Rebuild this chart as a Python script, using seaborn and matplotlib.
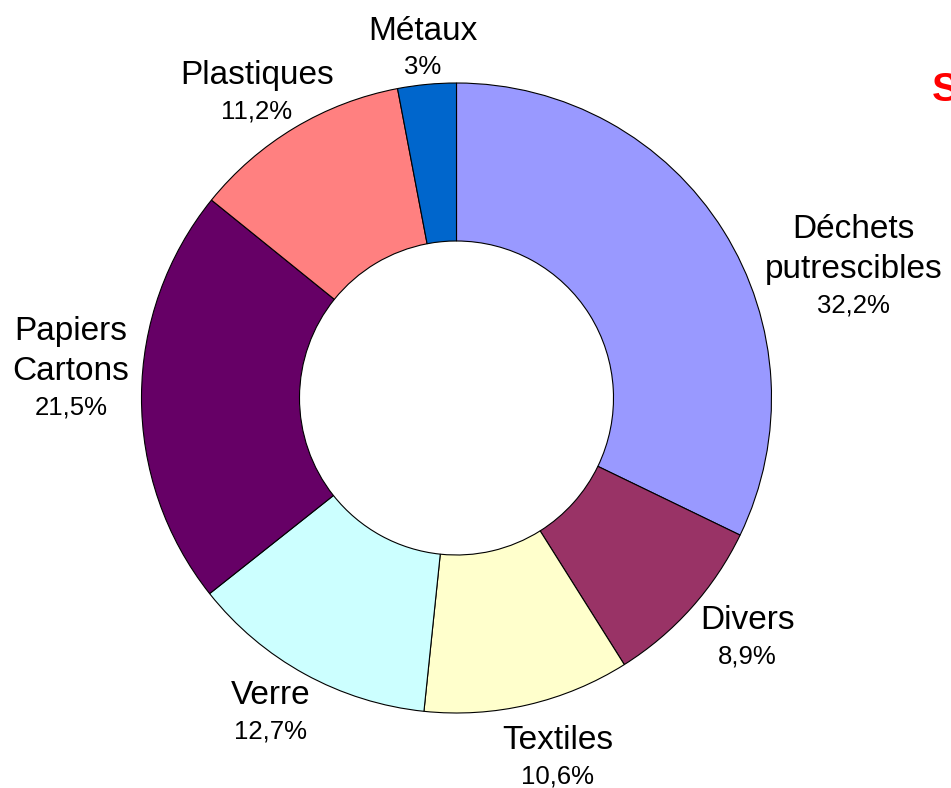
import numpy as np
import matplotlib
matplotlib.use("Agg")
import matplotlib.pyplot as plt
import seaborn as sns

# ---- data ----
categories = ["Déchets\nputrescibles", "Divers", "Textiles", "Verre",
              "Papiers\nCartons", "Plastiques", "Métaux"]
values = [32.2, 8.9, 10.6, 12.7, 21.5, 11.2, 3.0]
pct_labels = ["32,2%", "8,9%", "10,6%", "12,7%", "21,5%", "11,2%", "3%"]
colors = ["#9999FF", "#993366", "#FFFFCC", "#CCFFFF", "#660066", "#FF8080", "#0066CC"]

# label layout: (angle offset in degrees from wedge middle, distance from centre in px)
label_layout = [(-13.4, 419), (2.7, 375), (2.7, 371), (-2.1, 363),
                (-4.5, 387), (2.0, 367), (0.1, 354)]

sns.set_theme(style="white")
plt.rcParams["font.family"] = ["Liberation Sans", "DejaVu Sans"]

W, H = 951, 788
fig = plt.figure(figsize=(W / 100, H / 100), dpi=100)
ax = fig.add_axes([0, 0, 1, 1])
ax.set_xlim(0, W)
ax.set_ylim(0, H)
ax.set_aspect("equal")
ax.axis("off")

cx, cy = 456.5, H - 398
R = 315
ring = 158

wedges, _ = ax.pie(values, colors=colors, startangle=90, counterclock=False,
                   radius=R, center=(cx, cy),
                   wedgeprops=dict(width=ring, edgecolor="black", linewidth=0.8))
ax.set_xlim(0, W)
ax.set_ylim(0, H)

name_fs, pct_fs = 24, 18.5
line_gap = 40   # between name baselines
pct_gap = 34    # name baseline -> pct baseline

for w, name, pct, (doff, dist) in zip(wedges, categories, pct_labels, label_layout):
    mid = np.deg2rad((w.theta1 + w.theta2) / 2 + doff)
    bx = cx + dist * np.cos(mid)
    by = cy + dist * np.sin(mid)
    lines = name.split("\n")
    n = len(lines)
    block = 23 + (n - 1) * line_gap + pct_gap
    top_base = by + block / 2 - 23
    for i, ln in enumerate(lines):
        ax.text(bx, top_base - i * line_gap, ln, ha="center", va="baseline",
                fontsize=name_fs, color="black")
    ax.text(bx, top_base - (n - 1) * line_gap - pct_gap, pct, ha="center",
            va="baseline", fontsize=pct_fs, color="black")

# partially visible title at the right edge (cut off in the reference too)
fig.text(932 / W, 1 - 101 / H, "S", ha="left", va="baseline", fontsize=29,
         fontweight="bold", color="#FF0000")

fig.savefig("out.png", dpi=100)
